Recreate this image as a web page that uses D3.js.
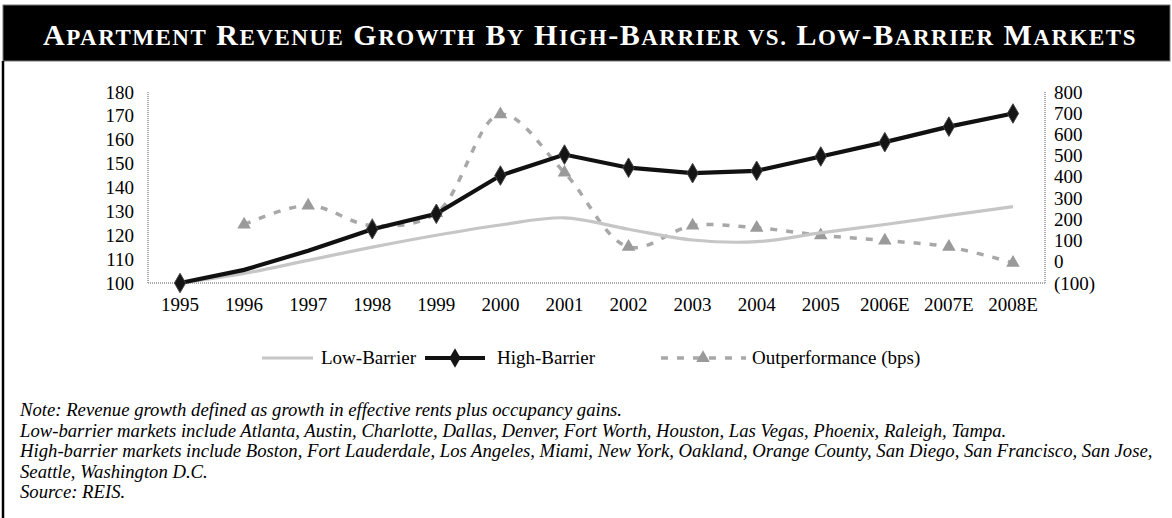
<!DOCTYPE html>
<html><head><meta charset="utf-8">
<script src="https://cdn.jsdelivr.net/npm/d3@7"></script>
<style>
html,body{margin:0;padding:0;background:#fff;}
svg{display:block;}
</style></head>
<body>
<svg id="chart" width="1172" height="518"></svg>
<script>
const categories = ["1995","1996","1997","1998","1999","2000","2001","2002","2003","2004","2005","2006E","2007E","2008E"];
const lowBarrier = [100,104,109.5,115,120,124.3,127.3,122.5,118,117.3,121,124.5,128.3,132];
const highBarrier = [100,105.5,113.5,122.5,129,145,153.8,148.3,146,147,153,159,165.5,171];
const highMarkerCategories = ["1995","1998","1999","2000","2001","2002","2003","2004","2005","2006E","2007E","2008E"];
const outperformance = [null,175,265,170,230,695,420,70,170,160,125,100,70,-5];
const leftTicks = [100,110,120,130,140,150,160,170,180];
const rightTicks = [-100,0,100,200,300,400,500,600,700,800];
const seriesNames = ["Low-Barrier","High-Barrier","Outperformance (bps)"];
const titleText = "Apartment Revenue Growth By High-Barrier vs. Low-Barrier Markets";
const notes = [
 "Note: Revenue growth defined as growth in effective rents plus occupancy gains.",
 "Low-barrier markets include Atlanta, Austin, Charlotte, Dallas, Denver, Fort Worth, Houston, Las Vegas, Phoenix, Raleigh, Tampa.",
 "High-barrier markets include Boston, Fort Lauderdale, Los Angeles, Miami, New York, Oakland, Orange County, San Diego, San Francisco, San Jose,",
 "Seattle, Washington D.C.",
 "Source: REIS."
];

const svg = d3.select("#chart");
const serif = "'Liberation Serif','Times New Roman',serif";

// frame
svg.append("rect").attr("x",3).attr("y",5).attr("width",1167).attr("height",56).attr("fill","#000").attr("stroke","#777").attr("stroke-width",1);
svg.append("line").attr("x1",3).attr("x2",3).attr("y1",61).attr("y2",518).attr("stroke","#000").attr("stroke-width",2.5);

// title in small caps
const title = svg.append("text").attr("x",590).attr("y",45).attr("text-anchor","middle")
  .attr("font-family",serif).attr("font-weight","bold").attr("fill","#fff").attr("letter-spacing",1.5);
titleText.split(" ").forEach((w,i)=>{
  const pre = i>0 ? " " : "";
  if (w === "vs.") {
    title.append("tspan").attr("font-size",23).text(pre + "VS.");
    return;
  }
  const parts = w.split("-");
  parts.forEach((p,j)=>{
    const lead = (j===0?pre:"-") + p[0];
    title.append("tspan").attr("font-size",30).text(lead);
    title.append("tspan").attr("font-size",23).text(p.slice(1).toUpperCase());
  });
});

// scales
const x = d3.scaleBand().domain(categories).range([148,1045]);
const cx = c => x(c) + x.bandwidth()/2;
const yL = d3.scaleLinear().domain([100,180]).range([283,92]);
const yR = d3.scaleLinear().domain([-100,800]).range([283,92]);

// axis lines
const axisColor = "#aaa";
svg.append("line").attr("x1",148).attr("x2",148).attr("y1",yL(180)).attr("y2",yL(100))
  .attr("stroke",axisColor).attr("stroke-width",2).attr("stroke-dasharray","1,1");
svg.append("line").attr("x1",1045).attr("x2",1045).attr("y1",yR(800)).attr("y2",yR(-100))
  .attr("stroke",axisColor).attr("stroke-width",2).attr("stroke-dasharray","1,1");
svg.append("line").attr("x1",148).attr("x2",1045).attr("y1",283).attr("y2",283)
  .attr("stroke",axisColor).attr("stroke-width",2).attr("stroke-dasharray","1,1");

// left axis
const gL = svg.append("g").attr("transform","translate(148,0)")
  .call(d3.axisLeft(yL).tickValues(leftTicks).tickSize(0).tickPadding(14).tickFormat(d3.format("d")));
gL.select(".domain").remove();
gL.selectAll("text").attr("font-family",serif).attr("font-size",19).attr("fill","#000");

// right axis
const fmtR = v => v < 0 ? "(" + Math.abs(v) + ")" : String(v);
const gR = svg.append("g").attr("transform","translate(1045,0)")
  .call(d3.axisRight(yR).tickValues(rightTicks).tickSize(0).tickPadding(9).tickFormat(fmtR));
gR.select(".domain").remove();
gR.selectAll("text").attr("font-family",serif).attr("font-size",19).attr("fill","#000");

// x axis
const gX = svg.append("g").attr("transform","translate(0,283)")
  .call(d3.axisBottom(x).tickSize(0).tickPadding(15));
gX.select(".domain").remove();
gX.selectAll("text").attr("font-family",serif).attr("font-size",19).attr("fill","#000");

// lines
const lowLine = d3.line().x((d,i)=>cx(categories[i])).y(d=>yL(d)).curve(d3.curveCatmullRom.alpha(0.5));
const highLine = d3.line().x((d,i)=>cx(categories[i])).y(d=>yL(d));
const outLine = d3.line().defined(d=>d!==null).x((d,i)=>cx(categories[i])).y(d=>yR(d)).curve(d3.curveCatmullRom.alpha(0.5));

svg.append("path").datum(outperformance).attr("d",outLine).attr("fill","none")
  .attr("stroke","#a8a8a8").attr("stroke-width",3.5).attr("stroke-dasharray","7,9");
svg.selectAll(".tri").data(outperformance.map((v,i)=>({v,c:categories[i]})).filter(d=>d.v!==null)).join("path").attr("class","tri")
  .attr("transform",d=>`translate(${cx(d.c)},${yR(d.v)})`)
  .attr("d",d3.symbol(d3.symbolTriangle,80)).attr("fill","#9a9a9a");

svg.append("path").datum(lowBarrier).attr("d",lowLine).attr("fill","none")
  .attr("stroke","#c6c6c6").attr("stroke-width",3.2);

svg.append("path").datum(highBarrier).attr("d",highLine).attr("fill","none")
  .attr("stroke","#111").attr("stroke-width",4.2);
svg.selectAll(".dia").data(highBarrier.map((v,i)=>({v,c:categories[i]})).filter(d=>highMarkerCategories.includes(d.c))).join("path").attr("class","dia")
  .attr("transform",d=>`translate(${cx(d.c)},${yL(d.v)})`)
  .attr("d",d3.symbol(d3.symbolDiamond,110)).attr("fill","#151515").attr("stroke","#444").attr("stroke-width",1);

// legend
const ly = 358;
const lg = svg.append("g");
lg.append("line").attr("x1",262).attr("x2",313).attr("y1",ly).attr("y2",ly).attr("stroke","#c6c6c6").attr("stroke-width",3.2);
lg.append("text").attr("x",321).attr("y",ly+6).text(seriesNames[0]);
lg.append("line").attr("x1",425).attr("x2",485).attr("y1",ly).attr("y2",ly).attr("stroke","#111").attr("stroke-width",4.2);
lg.append("path").attr("transform",`translate(455,${ly})`).attr("d",d3.symbol(d3.symbolDiamond,110)).attr("fill","#151515");
lg.append("text").attr("x",497).attr("y",ly+6).text(seriesNames[1]);
lg.append("line").attr("x1",661).attr("x2",746).attr("y1",ly).attr("y2",ly).attr("stroke","#a8a8a8").attr("stroke-width",3.5).attr("stroke-dasharray","7,9");
lg.append("path").attr("transform",`translate(703,${ly})`).attr("d",d3.symbol(d3.symbolTriangle,80)).attr("fill","#9a9a9a");
lg.append("text").attr("x",752).attr("y",ly+6).text(seriesNames[2]);
lg.selectAll("text").attr("font-family",serif).attr("font-size",19).attr("fill","#000");

// notes
svg.append("g").selectAll("text").data(notes).join("text")
  .attr("x",20).attr("y",(d,i)=>416 + i*20.6)
  .attr("font-family",serif).attr("font-style","italic").attr("font-size",18.7).attr("fill","#000")
  .text(d=>d);
</script>
</body></html>
